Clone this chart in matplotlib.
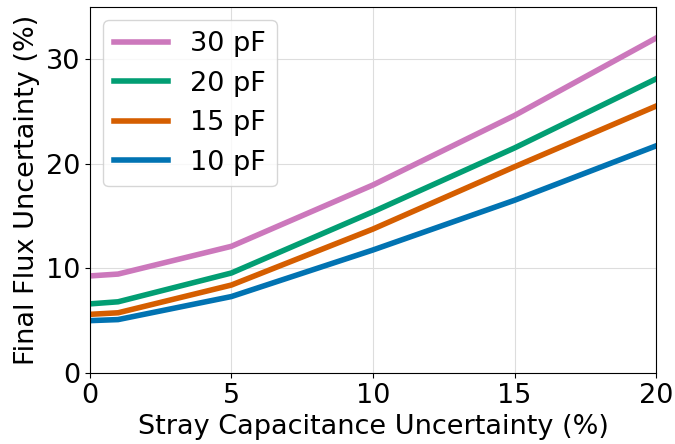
import matplotlib
matplotlib.use('Agg')
import matplotlib.pyplot as plt

# Incertidumbre de capacitancia parasita (%)
stray = [0, 1, 5, 10, 15, 20]

# Incertidumbre final del flujo (%) para cada capacitancia
flux_10pf = [5.0, 5.1, 7.3, 11.75, 16.5, 21.7]
flux_15pf = [5.6, 5.75, 8.4, 13.75, 19.7, 25.5]
flux_20pf = [6.6, 6.8, 9.55, 15.4, 21.5, 28.1]
flux_30pf = [9.27, 9.45, 12.1, 17.96, 24.6, 32.0]

plt.rcParams['font.size'] = 19.5

fig, ax = plt.subplots(figsize=(6.75, 4.44), dpi=100)
ax.plot(stray, flux_30pf, color='#cc78bc', lw=4, label='30 pF')
ax.plot(stray, flux_20pf, color='#029e73', lw=4, label='20 pF')
ax.plot(stray, flux_15pf, color='#d55e00', lw=4, label='15 pF')
ax.plot(stray, flux_10pf, color='#0173b2', lw=4, label='10 pF')

ax.set_xlim(0, 20)
ax.set_ylim(0, 35)
ax.set_xticks([0, 5, 10, 15, 20])
ax.set_yticks([0, 10, 20, 30])
ax.set_xlabel('Stray Capacitance Uncertainty (%)')
ax.set_ylabel('Final Flux Uncertainty (%)')
ax.grid(color='#dddddd')
ax.legend(loc='upper left')

fig.subplots_adjust(left=0.133, right=0.972, top=0.985, bottom=0.16)
fig.savefig('out.png')
